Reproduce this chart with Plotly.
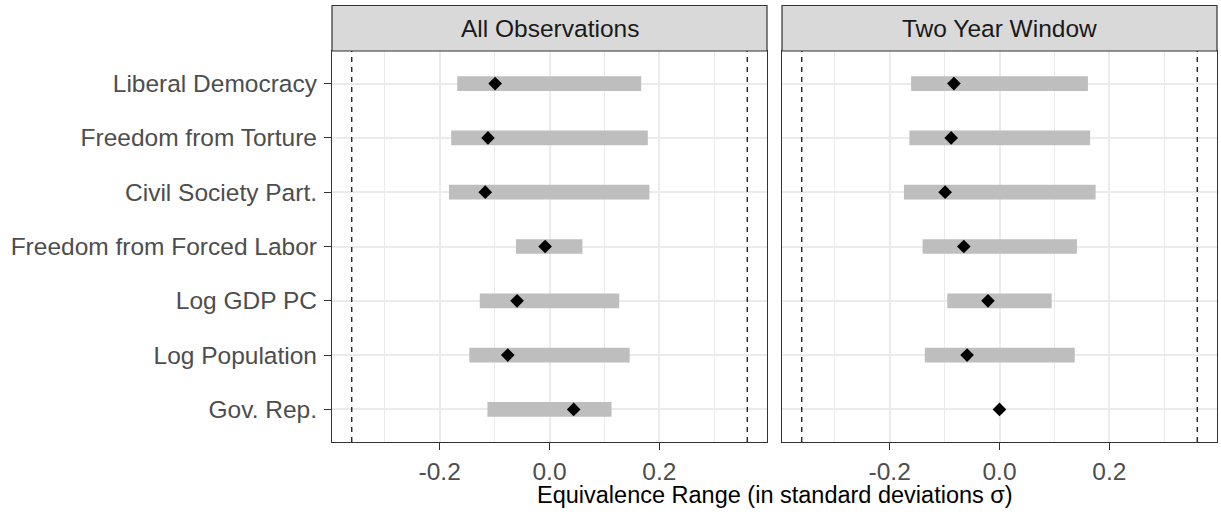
import plotly.graph_objects as go

# ---------------- data ----------------
categories = ["Liberal Democracy", "Freedom from Torture", "Civil Society Part.",
              "Freedom from Forced Labor", "Log GDP PC", "Log Population", "Gov. Rep."]
panels = ["All Observations", "Two Year Window"]

all_lower = [-0.168, -0.179, -0.183, -0.061, -0.127, -0.146, -0.113]
all_upper = [0.167, 0.179, 0.182, 0.060, 0.127, 0.146, 0.113]
all_est = [-0.099, -0.112, -0.117, -0.008, -0.059, -0.076, 0.044]

two_lower = [-0.161, -0.164, -0.174, -0.140, -0.095, -0.136, None]
two_upper = [0.161, 0.165, 0.175, 0.141, 0.095, 0.137, None]
two_est = [-0.083, -0.088, -0.099, -0.065, -0.021, -0.059, 0.000]

bound_lines = [-0.36, 0.36]
x_ticks = [-0.2, 0.0, 0.2]
x_ticktext = ["-0.2", "0.0", "0.2"]
x_minor = [-0.3, -0.1, 0.1, 0.3]
x_title = "Equivalence Range (in standard deviations σ)"

# ---------------- figure ----------------
W, H = 1221, 515
FONT = "Liberation Sans, Arial, Helvetica, sans-serif"
BAR = "#BEBEBE"
GRID = "#EBEBEB"
BORDER = "#333333"
LBL = 24.5

px_left1, px_right1 = 332, 767
px_left2, px_right2 = 782, 1217
px_top, px_bottom = 51, 442
px_strip_top = 5.5

d1 = [px_left1 / W, px_right1 / W]
d2 = [px_left2 / W, px_right2 / W]
ydom = [(H - px_bottom) / H, (H - px_top) / H]
strip_top = (H - px_strip_top) / H

fig = go.Figure()

series = [(all_lower, all_upper, all_est, "x", "y"),
          (two_lower, two_upper, two_est, "x2", "y2")]

for lo, up, est, xa, ya in series:
    widths = [None if (a is None or b is None) else b - a for a, b in zip(lo, up)]
    bases = [0 if a is None else a for a in lo]
    fig.add_trace(go.Bar(
        y=categories, x=widths, base=bases, orientation="h",
        width=0.27, marker=dict(color=BAR, line=dict(width=0)),
        xaxis=xa, yaxis=ya, showlegend=False, hoverinfo="skip"))
    fig.add_trace(go.Scatter(
        y=categories, x=est, mode="markers",
        marker=dict(symbol="diamond", size=10.5, color="black", line=dict(width=0)),
        xaxis=xa, yaxis=ya, showlegend=False))

xr = [-0.396, 0.396]
cat_order = list(reversed(categories))

axis_common = dict(
    range=xr, tickmode="array", tickvals=x_ticks, ticktext=x_ticktext,
    showgrid=True, gridcolor=GRID, gridwidth=1.6,
    minor=dict(tickmode="array", tickvals=x_minor, showgrid=True,
               gridcolor=GRID, gridwidth=0.9, ticklen=0),
    zeroline=False, showline=True, linecolor=BORDER, linewidth=1.2, mirror=True,
    ticks="outside", ticklen=7, tickwidth=1.2, tickcolor=BORDER,
    tickfont=dict(family=FONT, size=LBL, color="#4D4D4D"),
    fixedrange=True,
)
yaxis_common = dict(
    type="category", categoryorder="array", categoryarray=cat_order,
    range=[-0.6, 6.6], showgrid=True, gridcolor=GRID, gridwidth=1.6,
    zeroline=False, showline=True, linecolor=BORDER, linewidth=1.2, mirror=True,
    ticklen=7, tickwidth=1.2, tickcolor=BORDER,
    tickfont=dict(family=FONT, size=LBL, color="#4D4D4D"),
    domain=ydom, fixedrange=True,
)

fig.update_layout(
    width=W, height=H, autosize=False,
    margin=dict(l=0, r=0, t=0, b=0, pad=0),
    paper_bgcolor="white", plot_bgcolor="white",
    barmode="overlay",
    xaxis=dict(domain=d1, anchor="y", **axis_common),
    xaxis2=dict(domain=d2, anchor="y2", **axis_common),
    yaxis=dict(anchor="x", ticks="outside", ticklabelstandoff=2, **yaxis_common),
    yaxis2=dict(anchor="x2", showticklabels=False, ticks="", **yaxis_common),
    font=dict(family=FONT),
)

# dashed equivalence bounds
for xa in ["x", "x2"]:
    for b in bound_lines:
        fig.add_shape(type="line", xref=xa, yref=("y" if xa == "x" else "y2") + " domain",
                      x0=b, x1=b, y0=0, y1=1,
                      line=dict(color="black", width=1.2, dash="5px,5px"), layer="above")

# strips
for dom, name in zip([d1, d2], panels):
    fig.add_shape(type="rect", xref="paper", yref="paper",
                  x0=dom[0], x1=dom[1], y0=ydom[1], y1=strip_top,
                  fillcolor="#D9D9D9", line=dict(color=BORDER, width=1.2), layer="above")
    fig.add_annotation(x=(dom[0] + dom[1]) / 2, y=(ydom[1] + strip_top) / 2,
                       xref="paper", yref="paper", text=name, showarrow=False,
                       xanchor="center", yanchor="middle",
                       font=dict(family=FONT, size=LBL, color="#1A1A1A"))

# x title
fig.add_annotation(x=(d1[0] + d2[1]) / 2, y=(H - 495) / H, xref="paper", yref="paper",
                   text=x_title, showarrow=False, xanchor="center", yanchor="middle",
                   font=dict(family=FONT, size=23.5, color="black"))

fig.write_html("out.html")
